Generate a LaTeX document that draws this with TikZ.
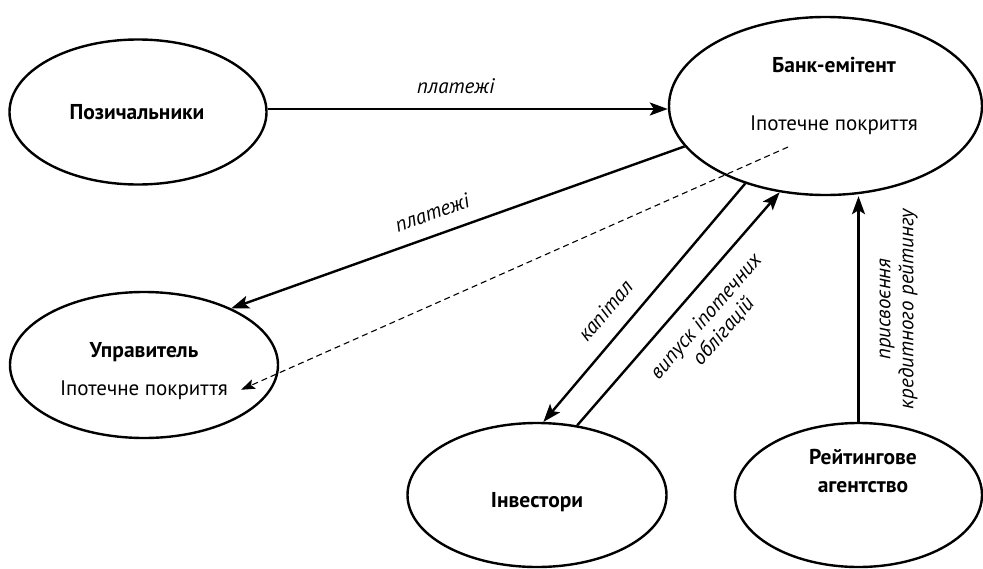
\documentclass[tikz,border=0pt]{standalone}
\usepackage{fontspec}
\setmainfont{PT Sans}
\usetikzlibrary{arrows.meta,shapes.geometric}
\begin{document}
\begin{tikzpicture}[x=1pt,y=-1pt,
  ent/.style={draw,ellipse,line width=2.4pt,inner sep=0pt},
  ttl/.style={font=\fontsize{21.5}{28}\selectfont\bfseries,align=center,inner sep=0pt},
  sub/.style={font=\fontsize{21}{24}\selectfont,inner sep=0pt},
  lbl/.style={font=\fontsize{21}{23}\selectfont\itshape,inner sep=0pt,align=center},
  flow/.style={line width=2.4pt,-{Stealth[length=18pt,width=13pt,inset=4pt]}},
  dflow/.style={line width=1.1pt,dash pattern=on 6pt off 4pt,-{Stealth[length=14pt,width=10pt,inset=3pt]}}
]
\useasboundingbox (0,0) rectangle (983,568);
% entities
\node[ent,minimum width=257pt,minimum height=145pt] (poz) at (138,112) {};
\node[ent,minimum width=313pt,minimum height=178pt] (bank) at (825.5,106) {};
\node[ent,minimum width=268pt,minimum height=146pt] (mgr) at (144,365) {};
\node[ent,minimum width=259pt,minimum height=144pt] (inv) at (537,495) {};
\node[ent,minimum width=247pt,minimum height=144pt] (rat) at (858.5,495) {};
% texts
\node[ttl,anchor=base] (pozt) at (137,119) {Позичальники};
\node[ttl,anchor=base] (bankt) at (834,72) {Банк-емітент};
\node[sub,anchor=base] (bankc) at (834,130) {Іпотечне покриття};
\node[ttl,anchor=base] (mgrt) at (144,357) {Управитель};
\node[sub,anchor=base] (mgrc) at (144,395) {Іпотечне покриття};
\node[ttl,anchor=base] (invt) at (537,507) {Інвестори};
\node[ttl,anchor=base] (ratt) at (863,492) {Рейтингове\\агентство};
\coordinate (dstart) at (788,147);
% connectors
\draw[flow] (poz.east |- 0,109) -- node[lbl,pos=0.47,above=16pt,anchor=base] (l1) {платежі} (bank.west |- 0,109);
\draw[flow] (bank.196) -- node[lbl,pos=0.54,sloped,above=14pt] (l2) {платежі} (mgr.33);
\draw[dflow] (dstart) -- ([xshift=13pt]mgrc.east);
\draw[flow] (bank.224) -- node[lbl,pos=0.6,sloped,above=16pt] (l3) {капітал} (inv.85);
\draw[flow] (inv.60) -- node[lbl,pos=0.54,sloped,below=16pt] (l4) {випуск іпотечних\\облігацій} (bank.242);
\draw[flow] (rat.north) -- node[lbl,pos=0.5,sloped,below=20pt] (l5) {присвоєння\\кредитного рейтингу} (bank.south -| rat.north);
\end{tikzpicture}
\end{document}
